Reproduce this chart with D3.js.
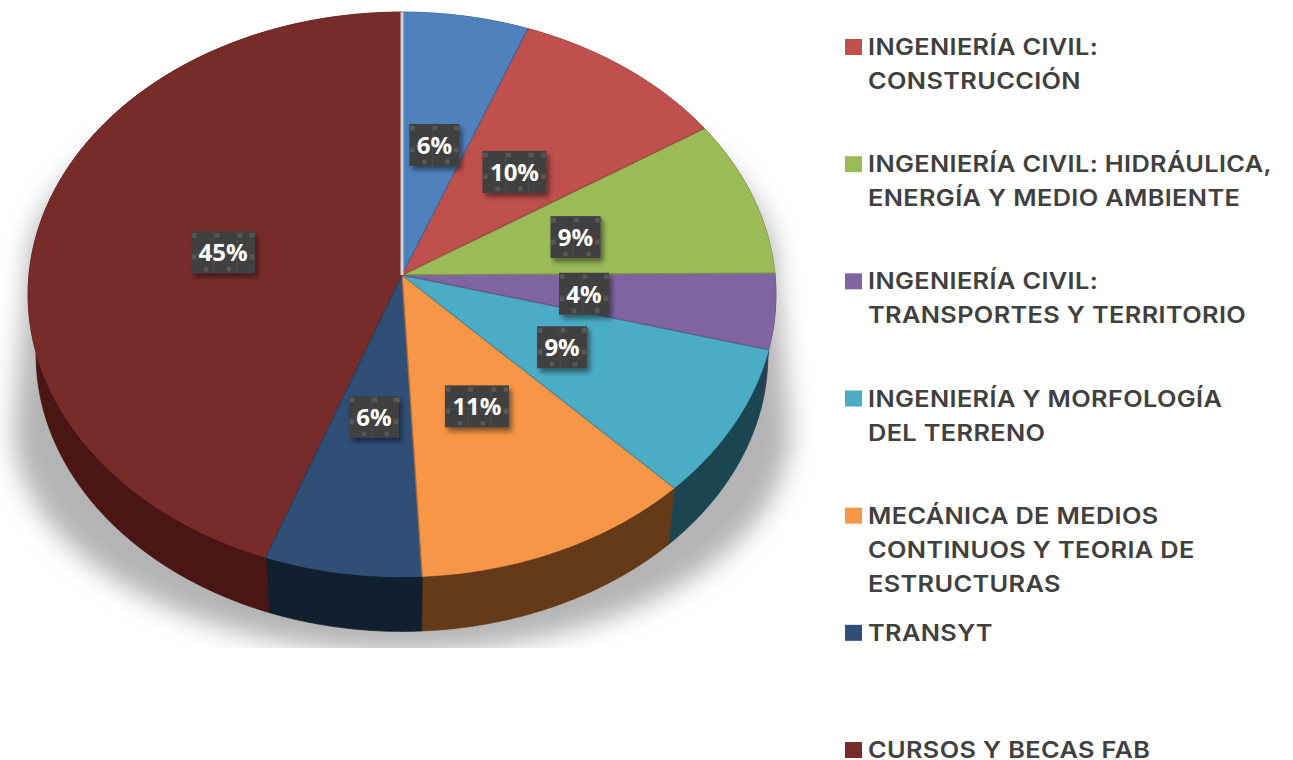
<!DOCTYPE html>
<html>
<head>
<meta charset="utf-8">
<script src="https://cdn.jsdelivr.net/npm/d3@7"></script>
<style>
body { margin: 0; background: #fff; }
svg { display: block; }
</style>
</head>
<body>
<div id="chart"></div>
<script>
// first slice has no entry in the legend of the original
const categories = [
    null,
    ['INGENIERÍA CIVIL:', 'CONSTRUCCIÓN'],
    ['INGENIERÍA CIVIL: HIDRÁULICA,', 'ENERGÍA Y MEDIO AMBIENTE'],
    ['INGENIERÍA CIVIL:', 'TRANSPORTES Y TERRITORIO'],
    ['INGENIERÍA Y MORFOLOGÍA', 'DEL TERRENO'],
    ['MECÁNICA DE MEDIOS', 'CONTINUOS Y TEORIA DE', 'ESTRUCTURAS'],
    ['TRANSYT'],
    ['CURSOS Y BECAS FAB']
];
const values = [5.85, 10.05, 9.0, 4.3, 8.6, 11.4, 6.35, 44.45];
const percentLabels = ['6%', '10%', '9%', '4%', '9%', '11%', '6%', '45%'];
const topColors = ['#4f81bd', '#c0504d', '#9bbb59', '#8064a2', '#4bacc6', '#f79646', '#2f4f77', '#772c2a'];
const sideColors = ['#2a4565', '#672a28', '#536431', '#443557', '#1b4551', '#643a18', '#11202f', '#4a1513'];

const width = 1293;
const height = 760;

const svg = d3.select('#chart').append('svg')
    .attr('width', width)
    .attr('height', height);

const defs = svg.append('defs');
defs.append('filter').attr('id', 'blur')
    .attr('x', '-10%').attr('y', '-10%').attr('width', '120%').attr('height', '120%')
    .append('feGaussianBlur').attr('stdDeviation', 13);
defs.append('filter').attr('id', 'labelShadow')
    .attr('x', '-20%').attr('y', '-20%').attr('width', '150%').attr('height', '150%')
    .append('feDropShadow')
    .attr('dx', 3).attr('dy', 4).attr('stdDeviation', 2.5)
    .attr('flood-color', '#000').attr('flood-opacity', 0.45);
defs.append('clipPath').attr('id', 'shadowClip')
    .append('rect').attr('x', 0).attr('y', 0).attr('width', 820).attr('height', 648);

// perspective view of a flat circle, angle 0 at 12 o'clock going clockwise
function projector(cx, cy, rx, ry, tilt = 0.069) {
    return (angle, r = 1) => {
        const u = r * Math.sin(angle);
        const v = -r * Math.cos(angle);
        const d = 1 - tilt * v;
        return [cx + rx * u / d, cy + ry * v / d];
    };
}
const topFace = projector(402, 275, 373, 281);
const bottomFace = projector(402, 336, 365, 275);
const shadowTop = projector(402, 270, 374, 200, 0);
const shadowBottom = projector(402, 430, 388, 222, 0);

const pie = d3.pie().sort(null).value(d => d);
const slices = pie(values);
const line = d3.line();

function arcAngles(s) {
    const n = Math.ceil((s.endAngle - s.startAngle) / 0.01);
    return d3.range(n + 1).map(i => s.startAngle + (s.endAngle - s.startAngle) * i / n);
}

// shadow under the pie, wider towards the viewer and cut flat at the bottom
const circleAngles = d3.range(0, 2 * Math.PI, 0.01);
const shadowHull = d3.polygonHull(circleAngles.map(a => shadowTop(a)).concat(circleAngles.map(a => shadowBottom(a))));
svg.append('g').attr('clip-path', 'url(#shadowClip)')
    .append('path')
    .attr('d', line(shadowHull) + 'Z')
    .attr('fill', '#b4b4b4')
    .attr('filter', 'url(#blur)');

// walls first, the top covers whatever is behind
svg.append('g').selectAll('path')
    .data(slices)
    .enter()
    .append('path')
    .attr('d', s => {
        const a = arcAngles(s);
        return line(a.map(t => topFace(t)).concat(a.slice().reverse().map(t => bottomFace(t)))) + 'Z';
    })
    .attr('fill', (s, i) => sideColors[i])
    .attr('stroke', (s, i) => sideColors[i])
    .attr('stroke-width', 0.8);

svg.append('g').selectAll('path')
    .data(slices)
    .enter()
    .append('path')
    .attr('d', s => line([topFace(0, 0)].concat(arcAngles(s).map(t => topFace(t)))) + 'Z')
    .attr('fill', (s, i) => topColors[i])
    .attr('stroke', (s, i) => topColors[i])
    .attr('stroke-width', 0.5)
    .attr('stroke-linejoin', 'round');

// darker edge where two slices meet, only along the radius
svg.append('g').selectAll('path')
    .data(slices)
    .enter()
    .append('path')
    .attr('d', s => line([topFace(0, 0), topFace(s.startAngle, 1)]))
    .attr('stroke', (s, i) => d3.color(topColors[(i + values.length - 1) % values.length]).darker(0.8))
    .attr('stroke-width', 1.4)
    .attr('stroke-opacity', 0.75)
    .attr('fill', 'none');

// pale seam between the big slice and the first one
svg.append('path')
    .attr('d', line([topFace(0, 0), topFace(0, 1)]))
    .attr('stroke', '#d4d4d4')
    .attr('stroke-width', 3)
    .attr('fill', 'none');

// percentage tags
const labelGroup = svg.append('g').selectAll('g')
    .data(slices)
    .enter()
    .append('g')
    .attr('transform', s => {
        const c = topFace((s.startAngle + s.endAngle) / 2, 0.49);
        return `translate(${c[0]},${c[1] + 1})`;
    });

const boxHeight = 42;
labelGroup.append('text')
    .attr('text-anchor', 'middle')
    .attr('y', 9)
    .attr('font-family', '"Open Sans", sans-serif')
    .attr('font-weight', 700)
    .attr('font-size', 24)
    .attr('fill', '#fff')
    .text((s, i) => percentLabels[i]);

labelGroup.each(function () {
    const g = d3.select(this);
    const w = Math.round(g.select('text').node().getComputedTextLength()) + 15;
    const box = g.insert('g', 'text');
    box.append('rect')
        .attr('x', -w / 2).attr('y', -boxHeight / 2)
        .attr('width', w).attr('height', boxHeight)
        .attr('fill', '#404040')
        .attr('filter', 'url(#labelShadow)');
    const dots = box.append('g').attr('fill', '#585858');
    const dot = (x, y) => dots.append('rect')
        .attr('x', -w / 2 + x - 2.25).attr('y', -boxHeight / 2 + y - 2.25)
        .attr('width', 4.5).attr('height', 4.5);
    d3.range(3, w, 23).forEach(x => dot(x, 4));
    d3.range(15, w - 3, 23).forEach(x => dot(x, boxHeight - 4));
    [4, 26].forEach(y => dot(3, y));
    [4, 26].forEach(y => dot(w - 3, y));
    d3.range(23, w - 5, 23).forEach(x => box.append('line')
        .attr('x1', -w / 2 + x).attr('x2', -w / 2 + x)
        .attr('y1', -boxHeight / 2).attr('y2', boxHeight / 2)
        .attr('stroke', '#4c4c4c'));
    box.append('line')
        .attr('x1', -w / 2).attr('x2', w / 2)
        .attr('y1', 2).attr('y2', 2)
        .attr('stroke', '#4c4c4c');
});

// legend
const legendItems = slices.map((s, i) => ({ name: categories[i], color: topColors[i] }))
    .filter(d => d.name);
const rowY = d3.scaleLinear().domain([0, legendItems.length - 1]).range([47, 750]);
const lineGap = 34;

const legend = svg.append('g').selectAll('g')
    .data(legendItems)
    .enter()
    .append('g')
    .attr('transform', (d, i) => `translate(845,${rowY(i)})`);

legend.append('rect')
    .attr('x', 0).attr('y', -8)
    .attr('width', 17).attr('height', 16)
    .attr('fill', d => d.color);

// the original face is wider than anything installed, so stretch it sideways
legend.selectAll('text')
    .data(d => d.name)
    .enter()
    .append('text')
    .attr('transform', (d, i) => `translate(23,${8 + i * lineGap}) scale(1.1,1)`)
    .attr('font-family', 'Inter, sans-serif')
    .attr('font-weight', 600)
    .attr('font-size', 23)
    .attr('letter-spacing', 0.35)
    .attr('fill', '#404040')
    .text(d => d);
</script>
</body>
</html>
